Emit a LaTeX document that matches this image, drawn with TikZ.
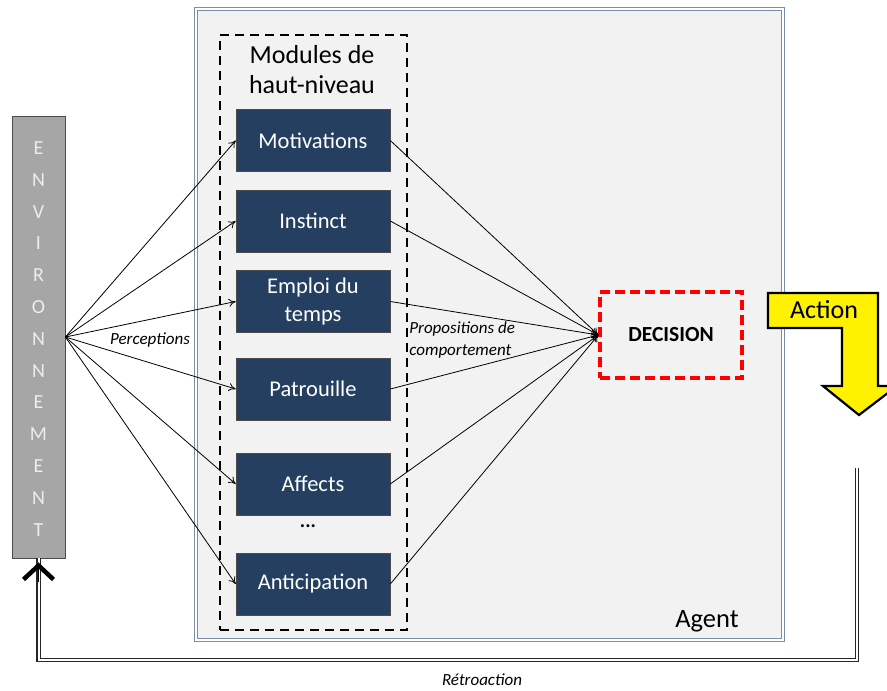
\documentclass[tikz,border=0pt]{standalone}
\usepackage{fontspec}
\setmainfont{Carlito}
\usetikzlibrary{arrows.meta}

\definecolor{modblue}{RGB}{36,63,96}
\definecolor{agentbg}{RGB}{242,242,242}
\definecolor{agentedge}{RGB}{120,142,172}
\definecolor{envgray}{RGB}{166,166,166}

\begin{document}
\begin{tikzpicture}[x=1pt, y=-1pt, line width=0.8pt, >={To[length=7pt,width=8pt]},
	module/.style={rectangle, fill=modblue, draw=black!70, line width=0.6pt, minimum width=154pt, minimum height=62pt, text=white, align=center, font=\fontsize{22.5}{28}\selectfont},
	lbl/.style={font=\fontsize{17}{22}\selectfont\itshape, inner sep=0pt},
	envletter/.style={text=white!93!black, font=\fontsize{20}{22}\selectfont, inner sep=0pt}]
	\useasboundingbox (0,0) rectangle (887,691);

	% agent and module frame
	\node[rectangle, fill=agentbg, draw=agentedge, line width=1pt, double=white, double distance=2pt, minimum width=587pt, minimum height=631pt](agent) at (489.5,324.5){};
	\node[rectangle, draw=black, line width=2.8pt, dash pattern=on 9pt off 6pt, minimum width=187pt, minimum height=595pt](hlbox) at (313.5,332.5){};
	\node[align=center, font=\fontsize{26}{30}\selectfont](hltitle) at (312,70){Modules de\\haut-niveau};
	\node[font=\fontsize{26.5}{28}\selectfont](agentlbl) at (707,621){Agent};

	% modules
	\node[module](mot) at (313,140.5){Motivations};
	\node[module](ins) at (313,221){Instinct};
	\node[module](emp) at (313,301.5){Emploi du\\temps};
	\node[module](pat) at (313,389){Patrouille};
	\node[module](aff) at (313,484){Affects};
	\node[module](ant) at (313,584){Anticipation};
	\node[font=\fontsize{20}{24}\selectfont\bfseries](dots) at (308,526){...};

	% environment
	\node[rectangle, fill=envgray, draw=black!70, line width=0.8pt, minimum width=53pt, minimum height=442pt](env) at (38.5,337){};
	\foreach \l [count=\i] in {E,N,V,I,R,O,N,N,E,M,E,N,T}
		\node[envletter](l\i) at (38.5,148+31.8*\i-31.8){\l};

	% decision
	\node[rectangle, draw=red, line width=3.2pt, dash pattern=on 10pt off 5pt, minimum width=142pt, minimum height=86pt, font=\fontsize{21.5}{24}\selectfont\bfseries](dec) at (671,335){DECISION};

	\foreach \m in {mot,ins,emp,pat,aff,ant}
		\draw[->] (env.east) -- (\m.west);
	\foreach \m in {mot,ins,emp,pat,aff,ant}
		\draw[->] (\m.east) -- (dec.west);

	\node[lbl](perc) at (150,340){Perceptions};
	\node[lbl, anchor=west, align=left](prop) at (409,340){Propositions de\\comportement};

	% action
	\draw[fill=yellow, draw=black, line width=2.2pt, line join=miter] (768,293) -- (878,293) -- (878,386) -- (897,386) -- (859,415) -- (823,386) -- (842,386) -- (842,328) -- (768,328) -- cycle;
	\node[font=\fontsize{26}{28}\selectfont](action) at (824,310){Action};

	% feedback
	\coordinate (fbstart) at (857,468);
	\draw[draw=black!85, line width=1.4pt, double=white, double distance=2pt] (fbstart) -- ++(0,192) -| (env.south);
	\draw[line width=0.1pt, -{Straight Barb[length=14pt,width=30pt,line width=4.5pt]}] ([yshift=-24pt]env.south) -- ([yshift=-4pt]env.south);
	\node[lbl](retro) at (482,680){Rétroaction};
\end{tikzpicture}
\end{document}
